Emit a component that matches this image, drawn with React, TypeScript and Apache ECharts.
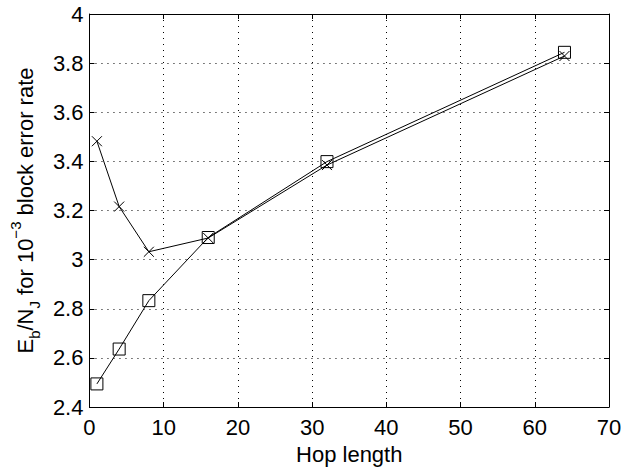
import React, { useEffect, useRef } from "react";
import * as echarts from "echarts";

const hopLengths = [1, 4, 8, 16, 32, 64];
const squareSeries = [2.494, 2.636, 2.833, 3.09, 3.399, 3.844];
const crossSeries = [3.482, 3.216, 3.032, 3.088, 3.385, 3.829];
const xTicks = { min: 0, max: 70, interval: 10 };
const yTicks = { min: 2.4, max: 4, interval: 0.2 };

const FONT = "Liberation Sans, Arial, Helvetica, sans-serif";
const FS = 22;
const FS_SMALL = 15;

export default function App() {
  const ref = useRef<HTMLDivElement>(null);
  useEffect(() => {
    if (!ref.current) return;
    const chart = echarts.init(ref.current, undefined, { renderer: "svg" });
    const axisCommon = {
      axisLine: { show: true, onZero: false, lineStyle: { color: "#000", width: 1 } },
      axisTick: { show: true, inside: true, length: 5, lineStyle: { color: "#000" } },
    };
    chart.setOption({
      animation: false,
      backgroundColor: "#fff",
      textStyle: { fontFamily: FONT },
      grid: { left: 86, right: 25, top: 14, bottom: 63, containLabel: false },
      xAxis: [
        {
          type: "value",
          position: "bottom",
          ...xTicks,
          ...axisCommon,
          axisLabel: { color: "#000", fontSize: FS, fontFamily: FONT, margin: 9 },
          splitLine: { show: true, lineStyle: { color: "#000", type: [1, 5], width: 1 } },
          name: "Hop length",
          nameLocation: "middle",
          nameGap: 36,
          nameTextStyle: { color: "#000", fontSize: FS, fontFamily: FONT },
        },
        {
          type: "value",
          position: "top",
          ...xTicks,
          ...axisCommon,
          axisLabel: { show: false },
          splitLine: { show: false },
        },
      ],
      yAxis: [
        {
          type: "value",
          position: "left",
          ...yTicks,
          ...axisCommon,
          axisLabel: {
            color: "#000",
            fontSize: FS,
            fontFamily: FONT,
            margin: 6,
            formatter: (v: number) => String(Math.round(v * 10) / 10),
          },
          splitLine: { show: true, lineStyle: { color: "#000", type: [1, 5], width: 1 } },
          name: "{n|E}{sub|b}{n|/N}{sub|J}{n| for 10}{sup|−3}{n| block error rate}",
          nameLocation: "middle",
          nameGap: 40,
          nameRotate: 90,
          nameTextStyle: {
            color: "#000",
            fontFamily: FONT,
            rich: {
              n: { fontSize: FS, fontFamily: FONT, color: "#000", lineHeight: 34, verticalAlign: "middle" },
              sub: { fontSize: FS_SMALL, fontFamily: FONT, color: "#000", lineHeight: 34, verticalAlign: "bottom" },
              sup: { fontSize: FS_SMALL, fontFamily: FONT, color: "#000", lineHeight: 34, verticalAlign: "top" },
            },
          },
        },
        {
          type: "value",
          position: "right",
          ...yTicks,
          ...axisCommon,
          axisLabel: { show: false },
          splitLine: { show: false },
        },
      ],
      series: [
        {
          type: "line",
          data: hopLengths.map((x, i) => [x, squareSeries[i]]),
          symbol: "rect",
          symbolSize: 12,
          showAllSymbol: true,
          lineStyle: { color: "#000", width: 1 },
          itemStyle: { color: "transparent", borderColor: "#000", borderWidth: 1 },
          z: 3,
        },
        {
          type: "line",
          data: hopLengths.map((x, i) => [x, crossSeries[i]]),
          symbol: "path://M0,0L10,10M10,0L0,10",
          symbolSize: 10,
          showAllSymbol: true,
          lineStyle: { color: "#000", width: 1 },
          itemStyle: { color: "transparent", borderColor: "#000", borderWidth: 1 },
          z: 3,
        },
      ],
    });
    return () => chart.dispose();
  }, []);
  return <div ref={ref} style={{ width: 634, height: 470, position: "absolute", left: 0, top: 0 }} />;
}
